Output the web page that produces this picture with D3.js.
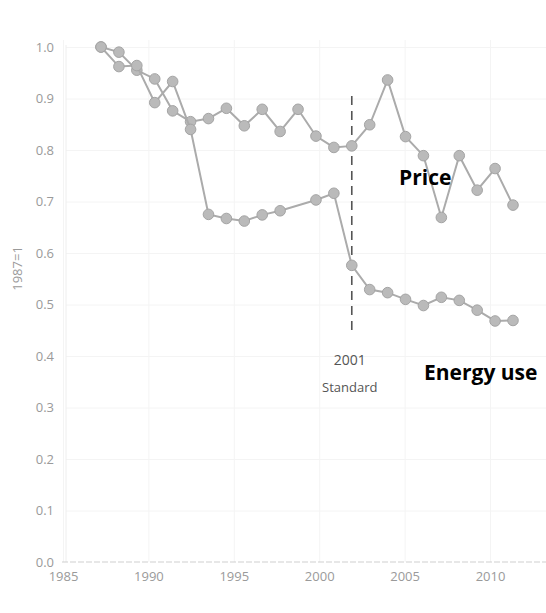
<!DOCTYPE html>
<html lang="en">
<head>
  <meta charset="UTF-8">
  <title>Price and energy use, 1987=1</title>
  <script src="https://d3js.org/d3.v7.min.js"></script>
  <style>
    * { margin: 0; padding: 0; box-sizing: border-box; }
    body { background: #fff; font-family: "Open Sans", Arial, sans-serif; }
    .tick text { fill: #9a9a9a; font-size: 13px; font-family: "Open Sans", Arial, sans-serif; }
  </style>
</head>
<body>
  <div id="chart"></div>
  <script>
    const years = [1987, 1988, 1989, 1990, 1991, 1992, 1993, 1994, 1995, 1996, 1997, 1998,
                   1999, 2000, 2001, 2002, 2003, 2004, 2005, 2006, 2007, 2008, 2009, 2010];
    const price = [1.0, 0.99, 0.955, 0.938, 0.876, 0.855, 0.861, 0.881, 0.847, 0.879, 0.836, 0.879,
                   0.827, 0.805, 0.808, 0.849, 0.936, 0.826, 0.789, 0.669, 0.789, 0.722, 0.764, 0.693];
    // no point is drawn for 1998 in the energy series
    const energy = [1.0, 0.962, 0.964, 0.892, 0.933, 0.840, 0.675, 0.667, 0.662, 0.674, 0.682, null,
                    0.703, 0.716, 0.576, 0.529, 0.523, 0.510, 0.498, 0.514, 0.508, 0.489, 0.468, 0.469];
    const xTicks = [1985, 1990, 1995, 2000, 2005, 2010];
    const yTicks = [0, 0.1, 0.2, 0.3, 0.4, 0.5, 0.6, 0.7, 0.8, 0.9, 1.0];
    const standardYear = 2001;

    const W = 546, H = 613;

    const svg = d3.select("#chart").append("svg")
      .attr("width", W).attr("height", H);

    // data grid
    const x = d3.scaleLinear().domain([1987, 2010]).range([101, 513]);
    // the scanned figure's tick labels sit a bit left of the data grid
    const xAxisScale = d3.scaleLinear().domain([1985, 2010]).range([63, 490]);
    const y = d3.scaleLinear().domain([0, 1]).range([562, 47]);

    // faint grid
    svg.append("g")
      .call(d3.axisLeft(y).tickValues(yTicks.slice(1)).tickSize(-(W - 66)).tickFormat(""))
      .attr("transform", "translate(66,0)")
      .call(g => g.select(".domain").remove())
      .selectAll("line").attr("stroke", "#f4f4f4");

    svg.append("g")
      .attr("transform", `translate(0,${y(0)})`)
      .call(d3.axisBottom(xAxisScale).tickValues(xTicks).tickSize(-(y(0) - 40)).tickFormat(""))
      .call(g => g.select(".domain").remove())
      .selectAll("line").attr("stroke", "#f4f4f4");

    svg.append("line")
      .attr("x1", 66).attr("x2", 66)
      .attr("y1", 45).attr("y2", y(0))
      .attr("stroke", "#eeeeee");

    // axes
    svg.append("g")
      .attr("transform", `translate(0,${y(0)})`)
      .call(d3.axisBottom(xAxisScale).tickValues(xTicks).tickSize(0).tickPadding(10).tickFormat(d3.format("d")))
      .call(g => g.select(".domain").attr("stroke", "#cfcfcf").attr("stroke-dasharray", "6,2")
        .attr("d", `M62,0H${W}`));

    svg.append("g")
      .attr("transform", "translate(66,0)")
      .call(d3.axisLeft(y).tickValues(yTicks).tickSize(0).tickPadding(12).tickFormat(d3.format(".1f")))
      .call(g => g.select(".domain").remove());

    svg.append("text")
      .attr("transform", `translate(22,${y(0.57)}) rotate(-90)`)
      .attr("text-anchor", "middle")
      .style("font-size", "13px")
      .style("fill", "#9a9a9a")
      .text("1987=1");

    // 2001 standard marker
    svg.append("line")
      .attr("x1", x(standardYear)).attr("x2", x(standardYear))
      .attr("y1", y(0.905)).attr("y2", y(0.445))
      .attr("stroke", "#555")
      .attr("stroke-width", 1.6)
      .attr("stroke-dasharray", "9,6");

    svg.append("text")
      .attr("x", x(standardYear) - 2).attr("y", y(0.382))
      .attr("text-anchor", "middle")
      .style("font-size", "14px").style("fill", "#555")
      .text("2001");
    svg.append("text")
      .attr("x", x(standardYear) - 2).attr("y", y(0.33))
      .attr("text-anchor", "middle")
      .style("font-size", "13px").style("fill", "#555")
      .text("Standard");

    // series
    const series = [
      { name: "Price", values: price },
      { name: "Energy use", values: energy }
    ];

    const line = d3.line()
      .x(d => x(d.year))
      .y(d => y(d.v));

    series.forEach(s => {
      const pts = years.map((yr, i) => ({ year: yr, v: s.values[i] })).filter(d => d.v !== null);
      svg.append("path")
        .datum(pts)
        .attr("fill", "none")
        .attr("stroke", "#ababab")
        .attr("stroke-width", 2)
        .attr("d", line);
      svg.append("g").selectAll("circle")
        .data(pts)
        .enter().append("circle")
        .attr("cx", d => x(d.year))
        .attr("cy", d => y(d.v))
        .attr("r", 5.3)
        .attr("fill", "#bababa")
        .attr("stroke", "#a4a4a4")
        .attr("stroke-width", 1);
    });

    svg.append("text")
      .attr("x", x(2005.1)).attr("y", y(0.733))
      .attr("text-anchor", "middle")
      .style("font-size", "21px").style("font-weight", "bold").style("fill", "#000")
      .text("Price");

    svg.append("text")
      .attr("x", x(2008.2)).attr("y", y(0.354))
      .attr("text-anchor", "middle")
      .style("font-size", "21px").style("font-weight", "bold").style("fill", "#000")
      .text("Energy use");
  </script>
</body>
</html>
